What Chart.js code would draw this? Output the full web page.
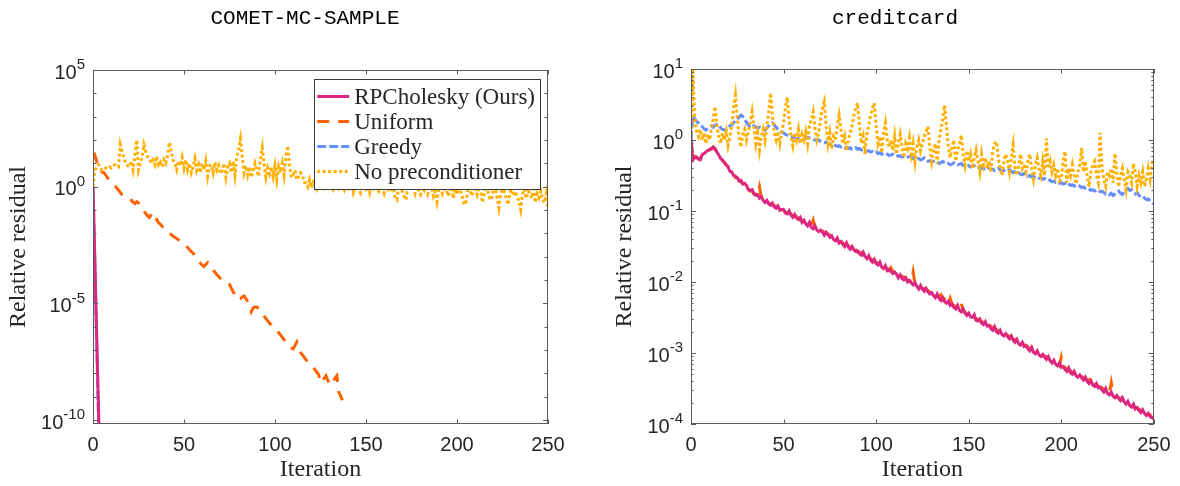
<!DOCTYPE html>
<html>
<head>
<meta charset="utf-8">
<script src="https://cdn.jsdelivr.net/npm/chart.js@4.4.1/dist/chart.umd.min.js"></script>
<style>
  html, body { margin: 0; padding: 0; background: #fff; }
  #wrap { display: flex; width: 1180px; height: 486px; }
  .cell { width: 590px; height: 486px; position: relative; }
</style>
</head>
<body>
<div id="wrap">
  <div class="cell"><canvas id="cComet" width="590" height="486"></canvas></div>
  <div class="cell"><canvas id="cCredit" width="590" height="486"></canvas></div>
</div>
<script>
// ---------------- DATA (log10 of relative residual, per iteration 0,1,2,...) ----------------
const seriesLabels = ['RPCholesky (Ours)', 'Uniform', 'Greedy', 'No preconditioner'];
const chartTitles = ['COMET-MC-SAMPLE', 'creditcard'];
const xTickValues = [0, 50, 100, 150, 200, 250];
const cometYLabelExps = [-10, -5, 0, 5];
const creditYLabelExps = [-4, -3, -2, -1, 0, 1];

const cometRPCholeskyLog10 = [0, -3.1, -6.3, -9.4, -12.6];
const cometGreedyLog10 = [0, -3.3, -6.6, -9.9, -13.2];
const cometUniformLog10 = [
  1.2, 1.35, 1.1, 0.8, 0.72, 0.62, 0.6, 0.5, 0.38, 0.3,
  0.22, 0.17, 0.05, -0.05, -0.15, -0.25, -0.34, -0.38, -0.42, -0.47,
  -0.52, -0.58, -0.66, -0.72, -0.64, -0.7, -0.85, -0.95, -1.05, -1.15,
  -1.25, -1.32, -1.2, -1.1, -1.28, -1.4, -1.54, -1.6, -1.7, -1.8,
  -1.88, -1.92, -1.97, -2.05, -2.12, -2.18, -2.22, -2.28, -2.34, -2.4,
  -2.48, -2.56, -2.6, -2.7, -2.78, -2.84, -2.98, -3.12, -3.2, -3.28,
  -3.36, -3.42, -3.32, -3.25, -3.4, -3.5, -3.58, -3.66, -3.76, -3.85,
  -3.93, -3.98, -4.02, -4.06, -4.1, -4.18, -4.35, -4.5, -4.65, -4.8,
  -4.85, -4.8, -4.72, -4.68, -4.8, -4.92, -5.05, -5.35, -5.2, -5.15,
  -5.15, -5.22, -5.3, -5.42, -5.55, -5.65, -5.75, -5.85, -5.92, -6.0,
  -6.08, -6.15, -6.25, -6.35, -6.45, -6.55, -6.65, -6.78, -6.88, -6.92,
  -6.95, -6.8, -6.65, -6.85, -7.1, -7.2, -7.3, -7.42, -7.5, -7.58,
  -7.66, -7.74, -7.85, -7.95, -8.05, -8.4, -8.3, -8.2, -8.1, -8.3,
  -8.45, -8.5, -8.35, -8.2, -8.1, -8.8, -8.95, -9.15
];
const cometNoPrecLog10 = [
  0.0, 0.72, 0.8, 0.94, 0.85, 0.7, 0.72, 0.8, 0.78, 0.85,
  0.8, 0.9, 0.94, 0.88, 0.85, 1.8, 1.5, 1.24, 1.0, 0.9,
  0.85, 1.1, 0.72, 1.3, 2.0, 0.72, 1.0, 1.28, 1.8, 1.5,
  1.28, 1.2, 1.0, 1.15, 0.94, 1.3, 0.94, 1.05, 0.85, 1.15,
  1.0, 1.35, 1.9, 1.5, 1.15, 1.0, 0.72, 1.1, 0.9, 1.25,
  0.8, 1.15, 0.72, 1.0, 0.6, 0.85, 1.2, 0.7, 0.95, 0.6,
  1.0, 0.72, 1.1, 0.45, 0.9, 0.94, 0.6, 1.05, 0.72, 0.9,
  0.55, 0.72, 1.0, 0.4, 0.85, 1.0, 0.6, 1.1, 0.5, 1.3,
  1.6, 2.05, 1.3, 0.6, 0.9, 0.5, 0.85, 0.4, 0.72, 1.0,
  0.7, 0.45, 1.2, 1.67, 1.0, 0.4, 0.8, 0.55, 0.85, 0.43,
  0.9, 0.3, 0.85, 0.6, 1.0, 0.5, 1.3, 1.75, 0.9, 0.4,
  0.51, 0.7, 0.3, 0.43, 0.6, 0.51, 0.2, 0.17, 0.0, 0.3,
  -0.04, 0.2, 0.1, -0.1, 0.15, 0.0, 0.2, -0.05, 0.1, -0.1,
  0.15, 0.0, -0.13, 0.1, 0.2, -0.05, 0.1, 0.0, -0.15, 0.1,
  0.05, -0.2, 0.15, -0.26, 0.0, 0.1, -0.1, -0.26, 0.05, 0.15,
  -0.1, 0.0, -0.26, 0.1, -0.05, 0.2, -0.1, -0.2, 0.0, 0.1,
  -0.26, 0.05, -0.1, 0.1, -0.2, 0.0, -0.47, -0.56, 0.0, 0.1,
  -0.2, -0.43, -0.56, 0.0, -0.1, 0.05, -0.04, -0.3, 0.0, -0.2,
  -0.34, 0.0, -0.15, 0.1, -0.3, -0.1, 0.0, -0.4, -0.2, -0.64,
  -0.1, 0.0, -0.3, -0.13, 0.05, -0.4, -0.2, 0.0, -0.5, -0.1,
  -0.34, 0.0, -0.2, -0.45, -0.77, -0.66, -0.1, 0.0, -0.4, -0.2,
  -0.1, -0.34, 0.0, -0.2, -0.68, -0.3, 0.05, -0.2, -0.5, -0.56,
  -0.1, 0.0, -0.43, -0.9, -0.3, -0.1, -0.2, -0.5, -0.77, -0.3,
  0.0, -0.4, -0.2, -0.43, -0.6, -0.98, -0.3, -0.1, -0.5, -0.2,
  -0.26, -0.5, -0.1, -0.68, -0.3, -0.47, -0.2, -0.55, -0.68, -0.3,
  -1.0
];

const creditRPCholeskyLog10 = [
  0.0, -0.28, -0.25, -0.24, -0.27, -0.28, -0.21, -0.19, -0.17, -0.15,
  -0.14, -0.12, -0.1, -0.13, -0.17, -0.21, -0.26, -0.28, -0.32, -0.35,
  -0.38, -0.44, -0.45, -0.5, -0.51, -0.53, -0.58, -0.57, -0.62, -0.61,
  -0.64, -0.7, -0.71, -0.7, -0.76, -0.78, -0.77, -0.82, -0.8, -0.85,
  -0.88, -0.85, -0.9, -0.92, -0.89, -0.94, -0.96, -0.93, -0.99, -0.98,
  -0.98, -1.03, -1.04, -1.0, -1.06, -1.09, -1.05, -1.1, -1.12, -1.09,
  -1.16, -1.13, -1.18, -1.21, -1.16, -1.23, -1.25, -1.21, -1.27, -1.29,
  -1.27, -1.3, -1.34, -1.3, -1.33, -1.37, -1.35, -1.4, -1.42, -1.38,
  -1.45, -1.43, -1.47, -1.5, -1.45, -1.51, -1.54, -1.5, -1.55, -1.57,
  -1.56, -1.6, -1.62, -1.58, -1.64, -1.67, -1.63, -1.69, -1.72, -1.68,
  -1.74, -1.76, -1.72, -1.79, -1.81, -1.77, -1.84, -1.82, -1.85, -1.88,
  -1.86, -1.89, -1.94, -1.9, -1.95, -1.97, -1.94, -2.0, -1.98, -2.01,
  -2.04, -2.01, -2.06, -2.1, -2.05, -2.1, -2.13, -2.09, -2.14, -2.17,
  -2.15, -2.19, -2.22, -2.17, -2.23, -2.26, -2.22, -2.28, -2.3, -2.27,
  -2.33, -2.31, -2.36, -2.38, -2.33, -2.4, -2.42, -2.38, -2.44, -2.47,
  -2.44, -2.49, -2.5, -2.46, -2.54, -2.55, -2.52, -2.58, -2.6, -2.56,
  -2.62, -2.61, -2.66, -2.68, -2.63, -2.7, -2.72, -2.68, -2.74, -2.76,
  -2.73, -2.77, -2.8, -2.76, -2.82, -2.85, -2.81, -2.87, -2.89, -2.85,
  -2.91, -2.9, -2.94, -2.97, -2.92, -2.99, -3.01, -2.97, -3.03, -3.05,
  -3.02, -3.06, -3.09, -3.05, -3.11, -3.14, -3.1, -3.16, -3.18, -3.14,
  -3.2, -3.19, -3.23, -3.26, -3.21, -3.28, -3.3, -3.26, -3.32, -3.34,
  -3.31, -3.35, -3.38, -3.34, -3.4, -3.43, -3.39, -3.45, -3.47, -3.43,
  -3.49, -3.48, -3.52, -3.55, -3.5, -3.57, -3.59, -3.55, -3.61, -3.63,
  -3.6, -3.64, -3.67, -3.63, -3.69, -3.72, -3.68, -3.74, -3.76, -3.72,
  -3.79, -3.77, -3.81, -3.84, -3.8, -3.85, -3.88, -3.85, -3.9, -3.91,
  -3.93
];
const creditUniformLog10 = [
  0.0, -0.27, -0.23, -0.25, -0.26, -0.27, -0.2, -0.2, -0.16, -0.15,
  -0.13, -0.13, -0.1, -0.12, -0.18, -0.2, -0.25, -0.29, -0.31, -0.35,
  -0.37, -0.43, -0.46, -0.48, -0.53, -0.53, -0.57, -0.59, -0.62, -0.62,
  -0.65, -0.69, -0.72, -0.71, -0.76, -0.76, -0.78, -0.66, -0.81, -0.84,
  -0.85, -0.88, -0.89, -0.9, -0.91, -0.94, -0.93, -0.95, -0.99, -0.96,
  -0.99, -1.02, -1.02, -1.03, -1.04, -1.07, -1.0, -1.09, -1.1, -1.13,
  -1.14, -1.15, -1.16, -1.18, -1.19, -1.21, -1.13, -1.24, -1.25, -1.28,
  -1.28, -1.28, -1.3, -1.32, -1.33, -1.34, -1.37, -1.38, -1.39, -1.42,
  -1.43, -1.43, -1.45, -1.47, -1.48, -1.49, -1.51, -1.54, -1.5, -1.55,
  -1.58, -1.58, -1.59, -1.62, -1.63, -1.6, -1.67, -1.67, -1.69, -1.72,
  -1.72, -1.74, -1.75, -1.76, -1.79, -1.8, -1.81, -1.84, -1.8, -1.85,
  -1.87, -1.88, -1.89, -1.92, -1.92, -1.93, -1.96, -1.97, -1.98, -2.01,
  -1.86, -2.03, -2.04, -2.05, -2.08, -2.09, -2.09, -2.11, -2.12, -2.14,
  -2.16, -2.17, -2.18, -2.2, -2.21, -2.18, -2.25, -2.24, -2.27, -2.3,
  -2.23, -2.31, -2.33, -2.35, -2.36, -2.37, -2.3, -2.41, -2.42, -2.45,
  -2.45, -2.47, -2.48, -2.49, -2.52, -2.53, -2.54, -2.56, -2.57, -2.58,
  -2.54, -2.61, -2.62, -2.65, -2.66, -2.67, -2.69, -2.7, -2.71, -2.74,
  -2.74, -2.75, -2.77, -2.79, -2.8, -2.81, -2.83, -2.84, -2.82, -2.87,
  -2.89, -2.89, -2.91, -2.94, -2.95, -2.96, -2.98, -2.99, -3.0, -3.04,
  -3.04, -3.04, -3.06, -3.08, -3.09, -3.1, -3.13, -3.14, -3.15, -3.18,
  -3.06, -3.19, -3.2, -3.23, -3.24, -3.25, -3.27, -3.28, -3.29, -3.33,
  -3.33, -3.33, -3.35, -3.37, -3.38, -3.39, -3.34, -3.43, -3.44, -3.47,
  -3.47, -3.48, -3.49, -3.52, -3.53, -3.54, -3.56, -3.42, -3.58, -3.62,
  -3.62, -3.63, -3.64, -3.66, -3.67, -3.68, -3.71, -3.72, -3.73, -3.76,
  -3.77, -3.77, -3.79, -3.81, -3.82, -3.8, -3.85, -3.86, -3.87, -3.91,
  -3.91
];
const creditGreedyLog10 = [
  0.0, 0.33, 0.3, 0.26, 0.24, 0.21, 0.19, 0.16, 0.14, 0.16,
  0.18, 0.2, 0.18, 0.21, 0.22, 0.21, 0.17, 0.15, 0.14, 0.14,
  0.17, 0.2, 0.21, 0.24, 0.28, 0.3, 0.32, 0.35, 0.33, 0.28,
  0.25, 0.21, 0.17, 0.19, 0.2, 0.18, 0.17, 0.18, 0.16, 0.15,
  0.14, 0.17, 0.2, 0.22, 0.24, 0.21, 0.18, 0.15, 0.13, 0.11,
  0.1, 0.08, 0.07, 0.06, 0.05, 0.04, 0.03, 0.02, 0.02, 0.01,
  0.0, 0.01, 0.03, 0.04, 0.03, 0.02, 0.01, 0.0, -0.01, 0.0,
  -0.02, -0.03, -0.04, -0.03, -0.05, -0.06, -0.07, -0.05, -0.08, -0.09,
  -0.08, -0.1, -0.09, -0.11, -0.1, -0.12, -0.11, -0.13, -0.12, -0.11,
  -0.13, -0.12, -0.14, -0.13, -0.14, -0.16, -0.15, -0.17, -0.16, -0.18,
  -0.17, -0.19, -0.18, -0.2, -0.19, -0.21, -0.2, -0.22, -0.21, -0.2,
  -0.22, -0.21, -0.23, -0.22, -0.24, -0.23, -0.25, -0.24, -0.23, -0.24,
  -0.26, -0.25, -0.27, -0.26, -0.28, -0.27, -0.25, -0.28, -0.3, -0.29,
  -0.31, -0.3, -0.29, -0.31, -0.33, -0.32, -0.3, -0.32, -0.34, -0.33,
  -0.35, -0.34, -0.32, -0.33, -0.35, -0.34, -0.33, -0.36, -0.35, -0.37,
  -0.36, -0.38, -0.37, -0.36, -0.39, -0.38, -0.4, -0.39, -0.41, -0.4,
  -0.38, -0.4, -0.42, -0.41, -0.43, -0.42, -0.4, -0.42, -0.44, -0.43,
  -0.41, -0.43, -0.42, -0.44, -0.46, -0.45, -0.47, -0.46, -0.48, -0.49,
  -0.47, -0.49, -0.51, -0.5, -0.52, -0.51, -0.53, -0.52, -0.54, -0.53,
  -0.55, -0.54, -0.56, -0.55, -0.57, -0.59, -0.58, -0.6, -0.59, -0.61,
  -0.6, -0.62, -0.61, -0.59, -0.62, -0.64, -0.63, -0.65, -0.64, -0.63,
  -0.65, -0.67, -0.66, -0.68, -0.67, -0.69, -0.71, -0.7, -0.72, -0.71,
  -0.7, -0.73, -0.72, -0.74, -0.76, -0.75, -0.77, -0.75, -0.78, -0.76,
  -0.74, -0.72, -0.75, -0.77, -0.73, -0.7, -0.68, -0.71, -0.7, -0.73,
  -0.76, -0.74, -0.78, -0.8, -0.79, -0.82, -0.84, -0.83, -0.86, -0.88,
  -0.9
];
const creditNoPrecLog10 = [
  0.0, 1.0, 0.3, 0.12, 0.05, 0.15, 0.0, 0.1, -0.05, 0.08,
  0.0, 0.15, 0.3, 0.47, 0.2, 0.05, -0.05, 0.1, 0.0, 0.12,
  -0.08, 0.05, 0.2, 0.45, 0.63, 0.3, 0.05, -0.1, 0.08, 0.15,
  0.0, 0.12, 0.25, 0.4, 0.2, -0.05, 0.1, -0.14, 0.05, 0.15,
  0.0, 0.2, 0.4, 0.66, 0.35, 0.1, 0.0, 0.12, -0.05, 0.1,
  0.25, 0.45, 0.6, 0.3, 0.05, -0.08, 0.1, 0.0, 0.15, -0.05,
  0.08, 0.0, 0.12, -0.05, 0.2, 0.3, 0.4, 0.15, 0.0, 0.1,
  0.3, 0.45, 0.54, 0.2, -0.05, 0.1, -0.12, 0.05, 0.0, 0.2,
  0.35, 0.15, -0.05, 0.05, -0.15, 0.0, 0.1, 0.2, 0.35, 0.45,
  0.52, 0.2, -0.05, 0.05, -0.2, 0.08, 0.2, 0.35, 0.45, 0.52,
  0.2, -0.05, 0.05, -0.18, 0.1, 0.24, 0.0, -0.1, 0.0, -0.15,
  0.05, -0.2, -0.05, 0.08, -0.1, -0.25, -0.05, -0.12, 0.03, -0.2,
  -0.05, -0.3, -0.1, 0.0, -0.15, -0.05, 0.05, 0.12, 0.19, -0.1,
  -0.3, -0.15, -0.05, -0.33, 0.0, 0.15, 0.3, 0.49, 0.2, -0.1,
  -0.25, -0.1, 0.0, -0.3, -0.15, -0.05, 0.07, -0.2, -0.35, -0.15,
  -0.3, -0.2, -0.4, -0.25, -0.14, -0.3, -0.45, -0.2, -0.35, -0.25,
  -0.4, -0.3, -0.45, -0.15, -0.05, -0.02, -0.25, -0.4, -0.5, -0.3,
  -0.2, -0.3, -0.45, -0.25, -0.07, -0.4, -0.5, -0.35, -0.2, -0.4,
  -0.35, -0.45, -0.3, -0.2, -0.4, -0.55, -0.35, -0.25, -0.4, -0.5,
  -0.3, -0.5, 0.02, -0.4, -0.3, -0.45, -0.35, -0.5, -0.4, -0.58,
  -0.55, -0.3, -0.16, -0.6, -0.4, -0.5, -0.35, -0.5, -0.62, -0.45,
  -0.35, -0.11, -0.45, -0.3, -0.5, -0.66, -0.45, -0.35, -0.3, -0.5,
  -0.6, 0.1, -0.4, -0.55, -0.65, -0.45, -0.5, -0.4, -0.6, -0.19,
  -0.45, -0.66, -0.5, -0.4, -0.55, -0.7, -0.45, -0.5, -0.6, -0.33,
  -0.45, -0.65, -0.5, -0.6, -0.45, -0.65, -0.55, -0.4, -0.55, -0.33,
  -0.3
];

// ---------------- STYLE ----------------
const COLORS = { rpc: '#DC267F', uni: '#FE6100', greedy: '#648FFF', noprec: '#FFB000' };
const TEXT = '#262626';
const SANS = '"Liberation Sans", Arial, Helvetica, sans-serif';
const tickFont = { family: SANS, size: 20 };
const axisTitleFont = { family: '"Liberation Serif", "Times New Roman", serif', size: 24 };
const titleFont = { family: '"Liberation Mono", "DejaVu Sans Mono", monospace', size: 21, weight: 'normal', lineHeight: 1.2 };

function decadeExponent(v) { return Math.round(Math.log10(v)); }
const toPoints = arr => arr.map((v, i) => ({ x: i, y: Math.pow(10, v) }));

// ---------------- PLUGINS ----------------
const titleCenterPlugin = {
  id: 'titleCenter',
  afterLayout(chart) {
    const t = chart.titleBlock;
    if (t) { t.left = 0; t.right = chart.width + 20; t.width = t.right - t.left; }
  }
};

const boxLegendPlugin = {
  id: 'boxLegend',
  afterDatasetsDraw(chart, args, o) {
    if (!o || !o.display) return;
    const { ctx, chartArea: a } = chart;
    const items = chart.data.datasets;
    ctx.save();
    ctx.font = o.font;
    const textW = Math.max(...items.map(d => ctx.measureText(d.label).width));
    const w = o.padLeft + o.lineLen + o.gap + textW + o.padRight;
    const h = items.length * o.rowH + 2 * o.padV;
    const right = a.right - o.offsetRight, left = right - w, top = a.top + o.offsetTop;
    ctx.fillStyle = '#ffffff';
    ctx.fillRect(left, top, w, h);
    ctx.strokeStyle = '#3a3a3a';
    ctx.lineWidth = 1;
    ctx.strokeRect(Math.round(left) + 0.5, Math.round(top) + 0.5, Math.round(w), Math.round(h));
    items.forEach((d, i) => {
      const cy = top + o.padV + o.rowH * (i + 0.5);
      ctx.beginPath();
      ctx.setLineDash(d.borderDash || []);
      ctx.lineWidth = d.borderWidth;
      ctx.strokeStyle = d.borderColor;
      ctx.lineCap = 'butt';
      ctx.moveTo(left + o.padLeft, cy);
      ctx.lineTo(left + o.padLeft + o.lineLen, cy);
      ctx.stroke();
      ctx.setLineDash([]);
      ctx.fillStyle = TEXT;
      ctx.textAlign = 'left';
      ctx.textBaseline = 'middle';
      ctx.fillText(d.label, left + o.padLeft + o.lineLen + o.gap, cy + 1);
    });
    ctx.restore();
  }
};

const axisBoxPlugin = {
  id: 'axisBox',
  afterDraw(chart, args, o) {
    const { ctx, chartArea: a, scales } = chart;
    const xs = scales.x, ys = scales.y;
    ctx.save();
    // y tick labels: base "10" with raised exponent, at the library's own tick positions
    ctx.fillStyle = TEXT;
    ctx.textBaseline = 'middle';
    ctx.textAlign = 'right';
    ys.ticks.forEach(t => {
      const py = ys.getPixelForValue(t.value);
      const exp = String(decadeExponent(t.value));
      const xr = a.left - o.labelGap;
      ctx.font = '15px ' + SANS;
      const ew = ctx.measureText(exp).width;
      ctx.fillText(exp, xr, py - 5);
      ctx.font = '20px ' + SANS;
      ctx.fillText('10', xr - ew, py + 3);
    });
    // box + inward tick marks
    ctx.strokeStyle = '#5a5a5a';
    ctx.lineWidth = 1;
    ctx.setLineDash([]);
    ctx.beginPath();
    o.xTicks.forEach(v => {
      const px = Math.round(xs.getPixelForValue(v)) + 0.5;
      ctx.moveTo(px, a.bottom); ctx.lineTo(px, a.bottom - o.xLen);
      ctx.moveTo(px, a.top); ctx.lineTo(px, a.top + o.xLen);
    });
    o.yTicks.forEach(t => {
      const py = Math.round(ys.getPixelForValue(t.v)) + 0.5;
      const len = t.major ? o.yMajorLen : o.yMinorLen;
      ctx.moveTo(a.left, py); ctx.lineTo(a.left + len, py);
      ctx.moveTo(a.right, py); ctx.lineTo(a.right - len, py);
    });
    ctx.stroke();
    ctx.strokeRect(Math.round(a.left) + 0.5, Math.round(a.top) + 0.5,
                   Math.round(a.right - a.left) - 1, Math.round(a.bottom - a.top) - 1);
    ctx.restore();
  }
};

// ---------------- BUILD ----------------
function makeDatasets(rpc, uni, greedy, noprec) {
  return [
    { label: seriesLabels[0], data: toPoints(rpc), borderColor: COLORS.rpc, borderWidth: 3, order: 0 },
    { label: seriesLabels[1], data: toPoints(uni), borderColor: COLORS.uni, borderWidth: 3, borderDash: [12, 9], order: 3 },
    { label: seriesLabels[2], data: toPoints(greedy), borderColor: COLORS.greedy, borderWidth: 3, borderDash: [9, 3], order: 2 },
    { label: seriesLabels[3], data: toPoints(noprec), borderColor: COLORS.noprec, borderWidth: 3, borderDash: [3, 2.5], order: 1 }
  ].map(d => Object.assign(d, { pointRadius: 0, pointHoverRadius: 0, tension: 0, fill: false, clip: 0, borderCapStyle: 'butt', borderJoinStyle: 'miter' }));
}

function makeConfig(cfg) {
  return {
    type: 'line',
    data: { datasets: cfg.datasets },
    plugins: [titleCenterPlugin, boxLegendPlugin, axisBoxPlugin],
    options: {
      responsive: false,
      animation: false,
      devicePixelRatio: 1,
      events: [],
      layout: { padding: { left: 0, right: cfg.padRight, top: 0, bottom: 0 } },
      plugins: {
        legend: { display: false },
        tooltip: { enabled: false },
        title: { display: true, text: cfg.title, font: titleFont, color: '#000',
                 padding: { top: 5.4, bottom: cfg.titlePadBottom } },
        boxLegend: cfg.legend,
        axisBox: { xTicks: xTickValues, xLen: 4.5, yTicks: cfg.yTickMarks, yMajorLen: 5, yMinorLen: cfg.yMinorLen, labelGap: 8 }
      },
      scales: {
        x: {
          type: 'linear', min: 0, max: 250,
          afterBuildTicks: s => { s.ticks = xTickValues.map(v => ({ value: v })); },
          afterFit: s => { s.height = 62; },
          ticks: { font: tickFont, color: TEXT, padding: 9.5, maxRotation: 0, autoSkip: false },
          grid: { display: false, drawTicks: false, tickLength: 0 },
          border: { display: false },
          title: { display: true, text: 'Iteration', font: axisTitleFont, color: TEXT, padding: { top: 0, bottom: 2 } }
        },
        y: {
          type: 'logarithmic', min: cfg.yMin, max: cfg.yMax,
          afterBuildTicks: s => { s.ticks = cfg.yLabelExps.map(e => ({ value: Math.pow(10, e) })); },
          afterFit: s => { s.width = cfg.yWidth; },
          ticks: { display: false, callback: v => '10^' + decadeExponent(v), autoSkip: false },
          grid: { display: false, drawTicks: false, tickLength: 0 },
          border: { display: false },
          title: { display: true, text: 'Relative residual', font: axisTitleFont, color: TEXT, padding: { top: cfg.yTitlePad, bottom: 0 } }
        }
      }
    }
  };
}

// tick mark positions (axis decoration)
const cometYTickMarks = [];
for (let e = -10; e <= 5; e++) cometYTickMarks.push({ v: Math.pow(10, e), major: cometYLabelExps.includes(e) });
const creditYTickMarks = [];
for (let e = -4; e <= 1; e++) {
  creditYTickMarks.push({ v: Math.pow(10, e), major: true });
  if (e < 1) for (let m = 2; m <= 9; m++) creditYTickMarks.push({ v: m * Math.pow(10, e), major: false });
}

new Chart(document.getElementById('cComet'), makeConfig({
  title: chartTitles[0],
  datasets: makeDatasets(cometRPCholeskyLog10, cometUniformLog10, cometGreedyLog10, cometNoPrecLog10),
  padRight: 42, titlePadBottom: 39.4, yWidth: 93, yTitlePad: 4,
  yMin: 6.8e-11, yMax: 1e5, yLabelExps: cometYLabelExps,
  yTickMarks: cometYTickMarks, yMinorLen: 3.5,
  legend: { display: true, font: '23px "Liberation Serif", "Times New Roman", serif',
            padLeft: 3, lineLen: 32, gap: 5, padRight: 5, rowH: 25, padV: 5, offsetRight: 8, offsetTop: 9 }
}));

new Chart(document.getElementById('cCredit'), makeConfig({
  title: chartTitles[1],
  datasets: makeDatasets(creditRPCholeskyLog10, creditUniformLog10, creditGreedyLog10, creditNoPrecLog10),
  padRight: 24, titlePadBottom: 38.4, yWidth: 101, yTitlePad: 20.6,
  yMin: 1e-4, yMax: 1e1, yLabelExps: creditYLabelExps,
  yTickMarks: creditYTickMarks, yMinorLen: 2.5,
  legend: { display: false }
}));
</script>
</body>
</html>
